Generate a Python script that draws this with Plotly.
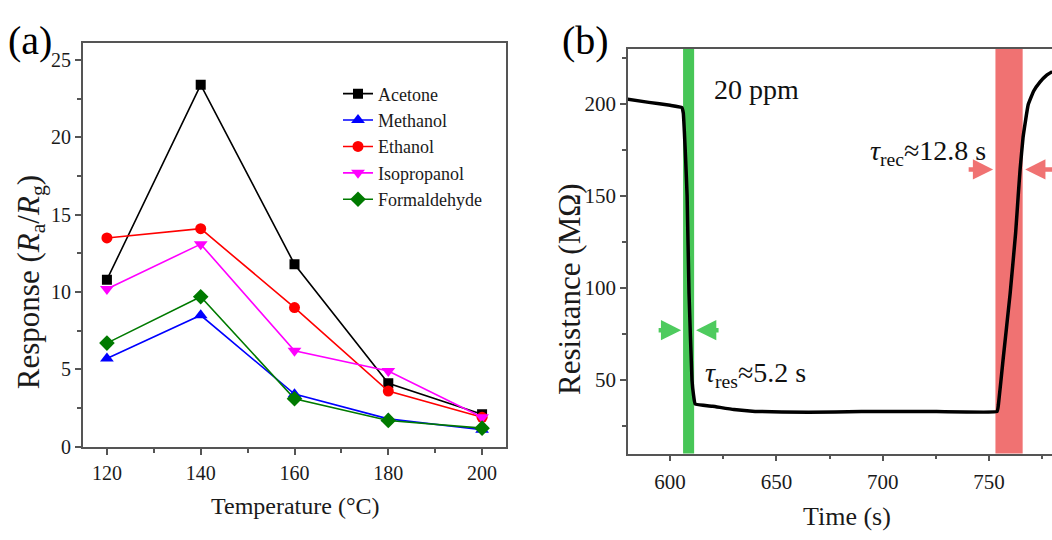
import plotly.graph_objects as go

# ---------------- data: panel (a) ----------------
temperature = [120, 140, 160, 180, 200]
acetone = [10.8, 23.4, 11.8, 4.1, 2.1]
methanol = [5.7, 8.5, 3.4, 1.8, 1.1]
ethanol = [13.5, 14.1, 9.0, 3.6, 1.9]
isopropanol = [10.2, 13.1, 6.2, 4.9, 1.9]
formaldehyde = [6.7, 9.7, 3.1, 1.7, 1.2]

# ---------------- data: panel (b) ----------------
time_s = [580, 590, 600, 605.5, 606.2, 606.7, 607.3, 608.0, 608.9, 610.3, 611.0, 611.8,
          620, 630, 640, 665, 690, 720, 753.8, 754.4, 756.6, 759.9, 762.5, 763.7,
          764.6, 766.0, 768.4, 771, 774, 777, 779.7]
resistance = [202.5, 200.8, 199.2, 198.0, 195, 185, 170, 150, 97, 50, 42, 37,
              35.8, 34.0, 33.0, 32.5, 33.0, 33.0, 33.0, 36.7, 61.2, 96.8, 130, 150,
              164.4, 181.9, 199.5, 207, 212, 215.5, 217.5]
res_band = [606.1, 611.3]
rec_band = [753.0, 765.8]

W, H = 1052, 540
def px(x):
    return x / W
def py(y):
    return 1 - y / H

serif = "Liberation Serif"
axis_col = "#555555"
txt_col = "#1a1a1a"

fig = go.Figure()

series = [
    ("Acetone", acetone, "#000000", "square", 10),
    ("Methanol", methanol, "#0000ff", "triangle-up", 12),
    ("Ethanol", ethanol, "#ff0000", "circle", 11),
    ("Isopropanol", isopropanol, "#ff00ff", "triangle-down", 12),
    ("Formaldehyde", formaldehyde, "#007a00", "diamond", 12),
]
for name, vals, col, sym, sz in series:
    fig.add_trace(go.Scatter(
        x=temperature, y=vals, name=name, mode="lines+markers",
        line=dict(color=col, width=1.6),
        marker=dict(symbol=sym, size=sz, color=col),
        xaxis="x", yaxis="y"))

fig.add_trace(go.Scatter(
    x=time_s, y=resistance, mode="lines", showlegend=False,
    line=dict(color="#000000", width=3.5, shape="spline", smoothing=0.3),
    xaxis="x2", yaxis="y2"))

common_axis = dict(
    showline=True, linecolor=axis_col, linewidth=1.8,
    ticks="outside", ticklen=6, tickwidth=1.5, tickcolor=axis_col,
    showgrid=False, zeroline=False,
    tickfont=dict(family=serif, size=20, color=txt_col),
)

fig.update_layout(
    width=W, height=H,
    margin=dict(l=0, r=0, t=0, b=0),
    paper_bgcolor="white", plot_bgcolor="white",
    xaxis=dict(common_axis, domain=[px(83), px(506)], range=[114.9, 205.1],
               tickvals=[120, 140, 160, 180, 200], mirror=True, anchor="y",
               ticklabelstandoff=1,
               minor=dict(ticklen=4, dtick=10, tick0=120, tickcolor=axis_col, showgrid=False)),
    yaxis=dict(common_axis, domain=[py(456), py(44)], range=[0, 26.1],
               dtick=5, tick0=0, mirror=True, anchor="x",
               minor=dict(ticklen=4, dtick=2.5, tick0=0, tickcolor=axis_col, showgrid=False)),
    xaxis2=dict(common_axis, domain=[px(628), 1.0], range=[580.2, 779.6],
                tickvals=[600, 650, 700, 750], mirror=True, anchor="y2",
                ticklabelstandoff=2, tickfont=dict(family=serif, size=21, color=txt_col),
                minor=dict(ticklen=4, dtick=25, tick0=600, tickcolor=axis_col, showgrid=False)),
    yaxis2=dict(common_axis, domain=[py(463), py(50)], range=[10.1, 229.8],
                tickvals=[50, 100, 150, 200], mirror=False, anchor="x2",
                tickfont=dict(family=serif, size=21, color=txt_col),
                minor=dict(ticklen=4, dtick=25, tick0=0, tickcolor=axis_col, showgrid=False)),
    legend=dict(x=px(338), y=py(77), xanchor="left", yanchor="top",
                bgcolor="rgba(0,0,0,0)", borderwidth=0,
                font=dict(family=serif, size=18, color=txt_col)),
    showlegend=True,
)

# response/recovery bands
fig.add_shape(type="rect", xref="x2", yref="y2 domain", x0=res_band[0], x1=res_band[1],
              y0=0, y1=1, fillcolor="#47c657", line=dict(width=0), layer="below")
fig.add_shape(type="rect", xref="x2", yref="y2 domain", x0=rec_band[0], x1=rec_band[1],
              y0=0, y1=1, fillcolor="#f07272", line=dict(width=0), layer="below")

def note(text, x, y, xa="center", ya="middle", size=28, angle=0, color="#111"):
    return dict(text=text, x=px(x), y=py(y), xref="paper", yref="paper",
                xanchor=xa, yanchor=ya, showarrow=False, textangle=angle,
                font=dict(family=serif, size=size, color=color))

annotations = [
    note("(a)", 6, 41, xa="left", size=40, color="#000"),
    note("(b)", 560, 41, xa="left", size=40, color="#000"),
    note("Response (<i>R</i><sub>a</sub>/<i>R</i><sub>g</sub>)", 31, 288, size=31, angle=-90,
         color=txt_col),
    note("Resistance (MΩ)", 570, 295, size=31, angle=-90, color=txt_col),
    note("Temperature (°C)", 295, 517, size=24, color=txt_col),
    note("Time (s)", 847, 527, size=26, color=txt_col),
    note("20 ppm", 712, 91, xa="left", size=28),
    note("<i>τ</i><sub>rec</sub>≈12.8 s", 988, 156, xa="right", size=28),
    note("<i>τ</i><sub>res</sub>≈5.2 s", 703, 382, xa="left", size=28),
]

arrow_specs = [
    (593.9, 605.2, 77.1, "#4ecb5e"),
    (623.5, 612.2, 77.1, "#4ecb5e"),
    (739.7, 751.9, 164.4, "#f07272"),
    (783.0, 767.0, 164.4, "#f07272"),
]
for tail, head, yv, col in arrow_specs:
    annotations.append(dict(
        x=head, y=yv, ax=tail, ay=yv, xref="x2", yref="y2", axref="x2", ayref="y2",
        text="", showarrow=True, arrowhead=2, arrowsize=0.9, arrowwidth=4.5,
        arrowcolor=col))

fig.update_layout(annotations=annotations)

fig.write_html("out.html")
